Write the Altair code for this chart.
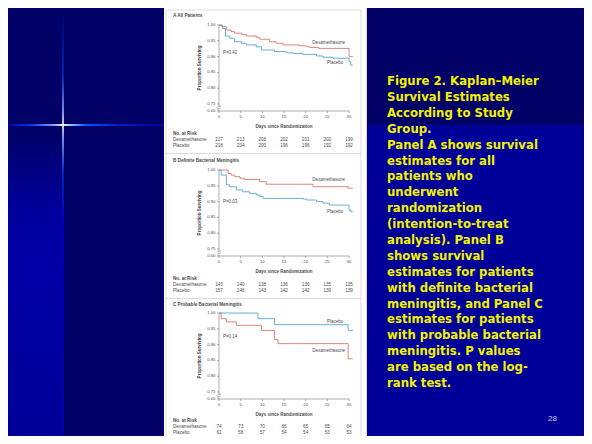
import altair as alt
import pandas as pd

# page = 8px margin + chart + 8px margin = 592 x 444
W, H = 576, 428


def px(v):  # picture coordinate -> chart coordinate
    return v - 8


def sz(v):
    return v


# ---------------- data ----------------
days_ticks = [0, 5, 10, 15, 20, 25, 30]
surv_ticks = [0.0, 0.75, 0.80, 0.85, 0.90, 0.95, 1.00]
groups = ["Dexamethasone", "Placebo"]

# Panel A: all patients
a_dex_day = [0, 0.5, 1.7, 2.8, 3.6, 5.2, 6.3, 8.6, 9.4, 11.7, 13.2, 14.8, 18.6, 20.2, 20.9, 23.0, 30.0, 30.9]
a_dex_surv = [1.0, 0.995, 0.984, 0.979, 0.974, 0.970, 0.965, 0.961, 0.955, 0.947, 0.942, 0.937, 0.934, 0.931, 0.929, 0.926, 0.900, 0.900]
a_pla_day = [0, 0.8, 1.5, 2.5, 3.6, 5.2, 6.3, 8.6, 9.8, 12.8, 15.5, 17.1, 19.4, 22.5, 24.0, 26.3, 30.0, 30.4, 30.9]
a_pla_surv = [1.0, 0.989, 0.965, 0.958, 0.947, 0.942, 0.937, 0.931, 0.921, 0.916, 0.912, 0.910, 0.907, 0.902, 0.898, 0.895, 0.884, 0.873, 0.873]

# Panel B: definite bacterial meningitis
b_dex_day = [0, 2.1, 2.8, 3.6, 4.8, 5.9, 9.4, 10.9, 21.7, 29.8, 30.9]
b_dex_surv = [1.0, 0.989, 0.984, 0.979, 0.974, 0.970, 0.963, 0.955, 0.947, 0.942, 0.942]
b_pla_day = [0, 0.5, 1.7, 2.5, 4.0, 5.5, 7.1, 8.6, 9.4, 10.2, 19.4, 20.2, 22.5, 24.0, 25.5, 30.0, 30.4, 30.9]
b_pla_surv = [1.0, 0.984, 0.953, 0.947, 0.937, 0.931, 0.926, 0.921, 0.916, 0.910, 0.908, 0.905, 0.900, 0.895, 0.889, 0.873, 0.868, 0.868]

# Panel C: probable bacterial meningitis
c_dex_day = [0, 0.5, 1.7, 4.0, 9.8, 12.8, 13.6, 29.8, 30.9]
c_dex_surv = [1.0, 0.982, 0.972, 0.961, 0.945, 0.916, 0.903, 0.855, 0.855]
c_pla_day = [0, 9.0, 12.8, 29.8, 30.9]
c_pla_surv = [1.0, 0.982, 0.963, 0.945, 0.945]

# numbers at risk
risk_a_dex = [217, 213, 208, 202, 201, 200, 199]
risk_a_pla = [218, 204, 200, 196, 196, 192, 192]
risk_b_dex = [143, 140, 138, 136, 136, 135, 135]
risk_b_pla = [157, 146, 143, 142, 142, 139, 139]
risk_c_dex = [74, 73, 70, 66, 65, 65, 64]
risk_c_pla = [61, 58, 57, 54, 54, 53, 53]

panel_titles = ["A  All Patients", "B  Definite Bacterial Meningitis", "C  Probable Bacterial Meningitis"]
p_values = ["P=0.42", "P=0.03", "P=0.14"]
x_title = "Days since Randomization"
y_title = "Proportion Surviving"
risk_title = "No. at Risk"

caption_lines = [
    "Figure 2. Kaplan\u2013Meier",
    "Survival Estimates",
    "According to Study",
    "Group.",
    "Panel A shows survival",
    "estimates for all",
    "patients who",
    "underwent",
    "randomization",
    "(intention-to-treat",
    "analysis). Panel B",
    "shows survival",
    "estimates for patients",
    "with definite bacterial",
    "meningitis, and Panel C",
    "estimates for patients",
    "with probable bacterial",
    "meningitis. P values",
    "are based on the log-",
    "rank test.",
]
page_number = "28"

# ---------------- style ----------------
FIG_FONT = "Liberation Sans"
TXT = "#4a4a4a"
AX = "#8a8a8a"
RED = "#d9776b"
BLUE = "#58a6d0"
X0, X1 = 219, 349  # picture x of day 0 / day 30

one = pd.DataFrame({"k": [0]})
cscale = alt.Scale(domain=groups, range=[RED, BLUE])


def box(x1, y1, x2, y2, **kw):
    return alt.Chart(one).mark_rect(**kw).encode(
        x=alt.value(px(x1)), x2=alt.value(px(x2)),
        y=alt.value(px(y1)), y2=alt.value(px(y2)))


def seg(x1, y1, x2, y2, width, **kw):
    return alt.Chart(one).mark_rule(strokeWidth=sz(width), **kw).encode(
        x=alt.value(px(x1)), x2=alt.value(px(x2)),
        y=alt.value(px(y1)), y2=alt.value(px(y2)))


def grad(stops, vertical=False):
    return alt.LinearGradient(
        gradient="linear",
        stops=[alt.GradientStop(offset=o, color=c) for o, c in stops],
        x1=0, y1=0, x2=0 if vertical else 1, y2=1 if vertical else 0)


def label(text, x, y, size, color=TXT, weight="normal", align="left",
          baseline="middle", font=FIG_FONT, angle=0):
    kw = dict(align=align, baseline=baseline, fontSize=sz(size), fontWeight=weight,
              color=color, font=font)
    if angle:
        kw["angle"] = angle
    return alt.Chart(one).mark_text(**kw).encode(
        x=alt.value(px(x)), y=alt.value(px(y)), text=alt.value(text))


def panel(i, dex_d, dex_s, pla_d, pla_s, r_dex, r_pla, ann, g):
    df = pd.DataFrame({
        "day": dex_d + pla_d,
        "surv": dex_s + pla_s,
        "group": [groups[0]] * len(dex_d) + [groups[1]] * len(pla_d),
    })
    xs = alt.Scale(domain=[0, 30], range=[px(X0), px(X1)], nice=False, zero=False)
    ys = alt.Scale(domain=[0.0, 0.75, 1.0],
                   range=[px(g["y0"]), px(g["y75"]), px(g["y1"])], nice=False, zero=False)

    def X(field):
        return alt.X(field, scale=xs, axis=None)

    def Y(field):
        return alt.Y(field, scale=ys, axis=None)

    y0 = g["y0"]
    xt = pd.DataFrame({"day": days_ticks})
    yt = pd.DataFrame({"surv": surv_ticks})
    xdom = pd.DataFrame({"day": [days_ticks[0]], "day2": [days_ticks[-1]]})
    ydom = pd.DataFrame({"surv": [surv_ticks[0]], "surv2": [surv_ticks[-1]]})
    lw = sz(0.7)

    layers = [
        # x axis
        alt.Chart(xdom).mark_rule(color=AX, strokeWidth=lw).encode(
            x=X("day:Q"), x2="day2:Q", y=alt.value(px(y0))),
        alt.Chart(xt).mark_rule(color=AX, strokeWidth=lw).encode(
            x=X("day:Q"), y=alt.value(px(y0)), y2=alt.value(px(y0 + 2))),
        alt.Chart(xt).mark_text(baseline="top", fontSize=sz(4.3), font=FIG_FONT, color=TXT).encode(
            x=X("day:Q"), y=alt.value(px(y0 + 3.5)), text="day:N"),
        # y axis
        alt.Chart(ydom).mark_rule(color=AX, strokeWidth=lw).encode(
            y=Y("surv:Q"), y2="surv2:Q", x=alt.value(px(X0))),
        alt.Chart(yt).mark_rule(color=AX, strokeWidth=lw).encode(
            y=Y("surv:Q"), x=alt.value(px(X0 - 2)), x2=alt.value(px(X0))),
        alt.Chart(yt).mark_text(align="right", baseline="middle", fontSize=sz(4.3),
                                font=FIG_FONT, color=TXT).encode(
            y=Y("surv:Q"), x=alt.value(px(X0 - 3.5)),
            text=alt.Text("surv:Q", format=".2f")),
    ]

    layers.append(alt.Chart(df).mark_line(interpolate="step-after", strokeWidth=sz(0.9)).encode(
        x=X("day:Q"), y=Y("surv:Q"),
        color=alt.Color("group:N", scale=cscale, legend=None),
    ))

    ann_df = pd.DataFrame({
        "text": [p_values[i], groups[0], groups[1]],
        "day": [ann["p"][0], ann["dex"][0], ann["pla"][0]],
        "surv": [ann["p"][1], ann["dex"][1], ann["pla"][1]],
    })
    layers.append(alt.Chart(ann_df).mark_text(
        align="left", baseline="middle", fontSize=sz(4.5), font=FIG_FONT, color=TXT
    ).encode(x=X("day:Q"), y=Y("surv:Q"), text="text:N"))

    for row_y, vals in ((g["rdex"], r_dex), (g["rpla"], r_pla)):
        rdf = pd.DataFrame({"day": days_ticks, "n": [str(v) for v in vals]})
        layers.append(
            alt.Chart(rdf).mark_text(align="center", baseline="middle", fontSize=sz(4.6),
                                     font=FIG_FONT, color=TXT).encode(
                x=X("day:Q"), y=alt.value(px(row_y)), text="n:N"))

    layers += [
        # axis break
        box(216.5, y0 - 4.6, 221.5, y0 - 2.4, color="white"),
        seg(217, y0 - 3.8, 221, y0 - 5.2, 0.6, color=AX),
        seg(217, y0 - 1.8, 221, y0 - 3.2, 0.6, color=AX),
        # titles
        label(x_title, (X0 + X1) / 2, y0 + 15.5, 4.5, weight="bold", align="center"),
        label(y_title, 199.5, (g["y1"] + y0) / 2, 4.5, weight="bold",
              align="center", angle=270),
        label(panel_titles[i], 173, g["title"], 4.6, weight="bold"),
        label(risk_title, 173, g["rno"], 4.6, weight="bold"),
        label(groups[0], 173, g["rdex"], 4.6),
        label(groups[1], 173, g["rpla"], 4.6),
    ]
    return alt.layer(*layers)


geom = [
    dict(y1=25, y75=104, y0=111, title=16, rno=134, rdex=140, rpla=146),
    dict(y1=170, y75=249, y0=256, title=161, rno=279, rdex=285, rpla=291),
    dict(y1=313, y75=392, y0=399, title=305, rno=421, rdex=427, rpla=433),
]
annots = [
    dict(p=(0.9, 0.911), dex=(21.5, 0.943), pla=(24.9, 0.880)),
    dict(p=(0.9, 0.900), dex=(21.5, 0.968), pla=(24.9, 0.867)),
    dict(p=(0.9, 0.925), dex=(21.5, 0.880), pla=(24.9, 0.972)),
]

pA = panel(0, a_dex_day, a_dex_surv, a_pla_day, a_pla_surv, risk_a_dex, risk_a_pla, annots[0], geom[0])
pB = panel(1, b_dex_day, b_dex_surv, b_pla_day, b_pla_surv, risk_b_dex, risk_b_pla, annots[1], geom[1])
pC = panel(2, c_dex_day, c_dex_surv, c_pla_day, c_pla_surv, risk_c_dex, risk_c_pla, annots[2], geom[2])

# ---------------- slide background ----------------
bg = box(0, 0, 600, 460, color="#000066")
right_low = box(367, 125, 600, 460, color="#000099")
left_band = box(8, 130, 63, 460, fill=grad([
    (0.0, "#000066"), (0.25, "#00009e"), (0.4, "#0000a6"), (1.0, "#000096")], vertical=True))
flare_h = box(8, 124, 164, 126, fill=grad([
    (0.0, "#0000b0"), (0.15, "#0038e0"), (0.3, "#7fa8ff"), (0.35, "#fffff0"),
    (0.40, "#9fc0ff"), (0.5, "#0058ff"), (0.7, "#0020c8"), (1.0, "#000099")]))
flare_v = box(62.2, 10, 63.8, 460, fill=grad([
    (0.0, "#000066"), (0.15, "#0030c8"), (0.22, "#88aaff"), (0.255, "#fffff0"),
    (0.29, "#88aaff"), (0.36, "#0030d0"), (0.48, "#0000c0"), (1.0, "#0000b0")], vertical=True))
figure_bg = box(164, 0, 366, 460, color="white")
figure_edge = box(366, 0, 367, 460, color="#d8d8d8")
frame = box(166, 10, 361, 441, fillOpacity=0, stroke="#d4d4d4", strokeWidth=sz(0.8))
sep1 = seg(166, 153.5, 361, 153.5, 0.8, color="#d4d4d4")
sep2 = seg(166, 298.5, 361, 298.5, 0.8, color="#d4d4d4")

caption = alt.Chart(one).mark_text(
    align="left", baseline="alphabetic", font="DejaVu Sans", fontWeight="bold",
    fontSize=sz(11.7), lineHeight=sz(15.9), color="#f2f200"
).encode(x=alt.value(px(387)), y=alt.value(px(85)), text=alt.value(caption_lines))

pnum = label(page_number, 548, 421, 8, color="#c8c8e8", baseline="alphabetic")

chart = alt.layer(
    bg, right_low, left_band, flare_v, flare_h,
    figure_bg, figure_edge, frame, sep1, sep2, pA, pB, pC, caption, pnum,
).resolve_scale(x="independent", y="independent", color="shared").properties(
    width=W, height=H, autosize=alt.AutoSizeParams(type="none"), padding=0
).configure_view(stroke=None)

chart.save("out.html", embed_options={"renderer": "svg", "actions": False})
